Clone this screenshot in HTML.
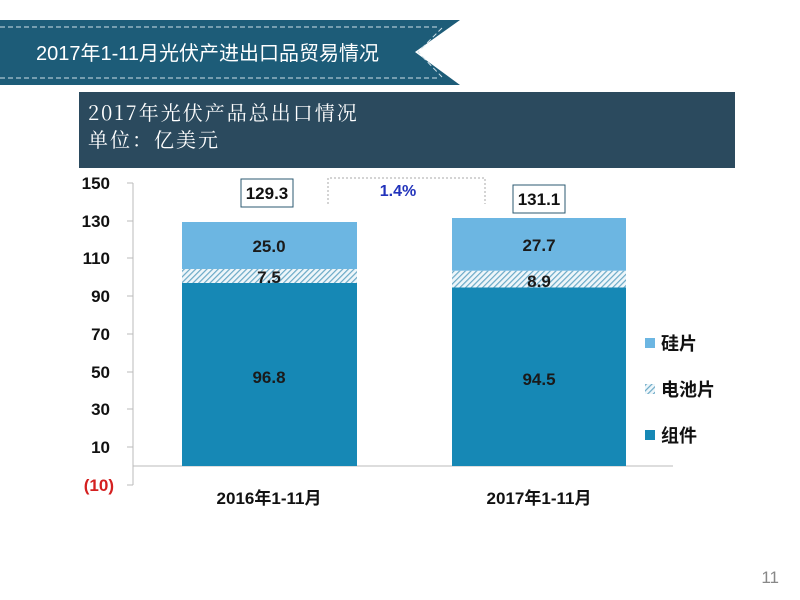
<!DOCTYPE html>
<html><head><meta charset="utf-8"><style>
body{margin:0;width:800px;height:600px;background:#fff;overflow:hidden;font-family:"Liberation Sans","Noto Sans CJK SC",sans-serif;}
</style></head><body>
<svg width="800" height="600" xmlns="http://www.w3.org/2000/svg" style="position:absolute;left:0;top:0">
<defs>
<pattern id="hatch" width="4" height="4" patternUnits="userSpaceOnUse" patternTransform="rotate(45)">
<rect width="4" height="4" fill="#eef6fa"/><rect width="1.2" height="4" fill="#6aa9c6"/>
</pattern>
</defs>
<polygon points="0,20 460,20 415,52 460,85 0,85" fill="#1d5c78"/>
<line x1="0" y1="27" x2="438" y2="27" stroke="#cfe0e8" stroke-width="1" stroke-dasharray="5,3"/>
<line x1="0" y1="78" x2="438" y2="78" stroke="#cfe0e8" stroke-width="1" stroke-dasharray="5,3"/>
<polyline points="442,28 418,52 442,77" fill="none" stroke="#cfe0e8" stroke-width="1" stroke-dasharray="5,3"/>
<text x="36" y="60" fill="#fff" font-size="20" font-family="Liberation Sans,Noto Sans CJK SC,sans-serif">2017年1-11月光伏产进出口品贸易情况</text>
<rect x="79" y="92" width="656" height="76" fill="#2b4a5e"/>
<text x="88" y="120" fill="#fff" font-size="20" font-family="Noto Serif CJK SC,serif" letter-spacing="2">2017年光伏产品总出口情况</text>
<text x="88" y="147" fill="#fff" font-size="20" font-family="Noto Serif CJK SC,serif" letter-spacing="2">单位：亿美元</text>
<line x1="133" y1="183" x2="133" y2="485" stroke="#bbb" stroke-width="1"/>
<g stroke="#bbb" stroke-width="1">
<line x1="127" y1="183" x2="133" y2="183"/><line x1="127" y1="221" x2="133" y2="221"/><line x1="127" y1="258" x2="133" y2="258"/><line x1="127" y1="296" x2="133" y2="296"/><line x1="127" y1="334" x2="133" y2="334"/><line x1="127" y1="372" x2="133" y2="372"/><line x1="127" y1="409" x2="133" y2="409"/><line x1="127" y1="447" x2="133" y2="447"/><line x1="127" y1="485" x2="133" y2="485"/>
</g>
<line x1="133" y1="466" x2="673" y2="466" stroke="#bbb" stroke-width="1"/>
<g font-size="17" font-weight="bold" fill="#111" text-anchor="end">
<text x="110" y="189">150</text><text x="110" y="227">130</text><text x="110" y="264">110</text><text x="110" y="302">90</text><text x="110" y="340">70</text><text x="110" y="378">50</text><text x="110" y="415">30</text><text x="110" y="453">10</text>
<text x="114" y="491" fill="#d42020">(10)</text>
</g>
<rect x="182" y="283" width="175" height="183" fill="#1688b5"/>
<rect x="182" y="269" width="175" height="14" fill="url(#hatch)"/>
<rect x="182" y="222" width="175" height="47" fill="#6cb6e2"/>
<rect x="452" y="287.5" width="174" height="178.5" fill="#1688b5"/>
<rect x="452" y="270.7" width="174" height="16.8" fill="url(#hatch)"/>
<rect x="452" y="218" width="174" height="52.7" fill="#6cb6e2"/>
<g font-size="17" font-weight="bold" fill="#1a1a1a" text-anchor="middle">
<text x="269" y="252">25.0</text><text x="269" y="283">7.5</text><text x="269" y="383">96.8</text>
<text x="539" y="251">27.7</text><text x="539" y="287">8.9</text><text x="539" y="385">94.5</text>
</g>
<rect x="241" y="179" width="52" height="28" fill="#fff" stroke="#2b5a70" stroke-width="1"/>
<text x="267" y="199" font-size="17" font-weight="bold" text-anchor="middle" fill="#111">129.3</text>
<rect x="513" y="185" width="52" height="28" fill="#fff" stroke="#2b5a70" stroke-width="1"/>
<text x="539" y="205" font-size="17" font-weight="bold" text-anchor="middle" fill="#111">131.1</text>
<polyline points="328,204 328,178 485,178 485,204" fill="none" stroke="#aaa" stroke-width="1" stroke-dasharray="2,2"/>
<text x="398" y="196" font-size="16" font-weight="bold" text-anchor="middle" fill="#2233bb">1.4%</text>
<g font-size="17" font-weight="bold" text-anchor="middle" fill="#111">
<text x="269" y="504">2016年1-11月</text><text x="539" y="504">2017年1-11月</text>
</g>
<rect x="645" y="338" width="10" height="10" fill="#6cb6e2"/>
<rect x="645" y="384" width="10" height="10" fill="url(#hatch)"/>
<rect x="645" y="430" width="10" height="10" fill="#1688b5"/>
<g font-size="18" font-weight="bold" fill="#111">
<text x="661" y="350">硅片</text><text x="661" y="396">电池片</text><text x="661" y="442">组件</text>
</g>
<text x="779" y="583" font-size="17" fill="#888" text-anchor="end">11</text>
</svg>
</body></html>
